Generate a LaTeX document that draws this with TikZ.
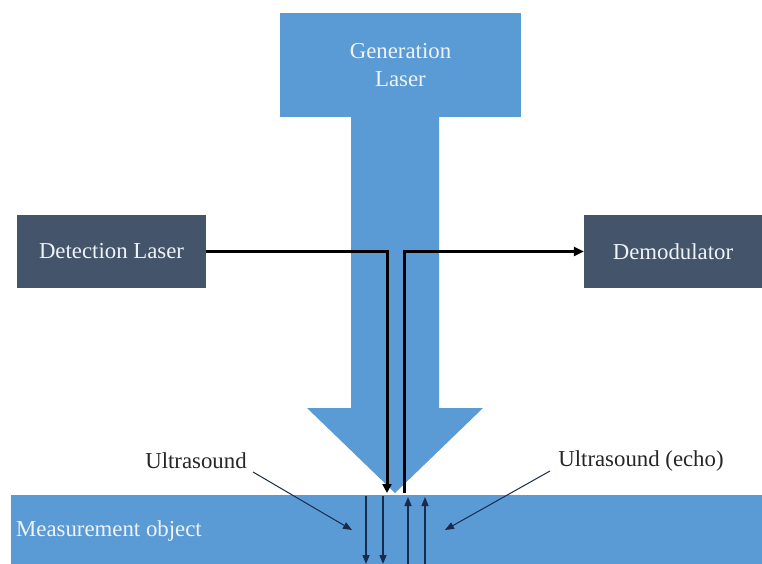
\documentclass[tikz,border=0pt]{standalone}
\usepackage{fontspec}
\setmainfont{Liberation Serif}
\usetikzlibrary{arrows.meta}
\definecolor{blu}{HTML}{5B9BD5}
\definecolor{slate}{HTML}{44546A}
\definecolor{navy}{HTML}{1A2A4A}
\definecolor{lighttext}{HTML}{EEF3F8}
\definecolor{labeltext}{HTML}{262626}
\begin{document}
\begin{tikzpicture}[x=1pt,y=-1pt,
  box/.style={draw=none, inner sep=0pt, text=lighttext, font=\fontsize{22.8}{28}\selectfont, align=center},
  lbl/.style={inner sep=0pt, text=labeltext, font=\fontsize{22.8}{28}\selectfont},
  beam/.style={line width=3pt, draw=black},
  wave/.style={line width=1.4pt, draw=navy, -{Triangle[length=9pt,width=7pt]}},
  pointer/.style={line width=1pt, draw=navy, -{Triangle[length=9pt,width=7pt]}}]
\useasboundingbox (0,0) rectangle (762,564);
\fill[white] (0,0) rectangle (762,564);
% measurement object
\fill[blu] (11,495) rectangle (762,564);
\node[lbl, text=lighttext, anchor=west] (mo) at (16,531) {Measurement object};
% generation laser beam arrow
\fill[blu] (351,116) -- (439,116) -- (439,408) -- (483,408) -- (395,493) -- (307,408) -- (351,408) -- cycle;
\node[box, fill=blu, minimum width=241pt, minimum height=104pt] (gen) at (400.5,65) {Generation\\Laser};
% detection and demodulator
\node[box, fill=slate, minimum width=189pt, minimum height=73pt] (det) at (111.5,251.5) {Detection Laser};
\node[box, fill=slate, minimum width=178pt, minimum height=73pt] (dem) at (673,251.5) {Demodulator};
\coordinate (hitL) at (387,493);
\coordinate (hitR) at (404,493);
\draw[beam, -{Triangle[length=9pt,width=9pt]}] (det.east) -| (hitL);
\draw[beam, -{Triangle[length=10pt,width=9pt]}] (hitR) |- (dem.west);
% ultrasound waves
\coordinate (d1a) at (366,496); \coordinate (d1b) at (366,564);
\coordinate (d2a) at (383,496); \coordinate (d2b) at (383,564);
\coordinate (u1a) at (408,564); \coordinate (u1b) at (408,497);
\coordinate (u2a) at (425,564); \coordinate (u2b) at (425,497);
\draw[wave] (d1a) -- (d1b);
\draw[wave] (d2a) -- (d2b);
\draw[wave] (u1a) -- (u1b);
\draw[wave] (u2a) -- (u2b);
% labels
\node[lbl] (us) at (196,461) {Ultrasound};
\node[lbl] (echo) at (641,461) {Ultrasound (echo)};
\coordinate (usT) at (352,530);
\coordinate (echoT) at (445,530);
\draw[pointer] (253,472) -- (usT);
\draw[pointer] (550,471) -- (echoT);
\end{tikzpicture}
\end{document}
